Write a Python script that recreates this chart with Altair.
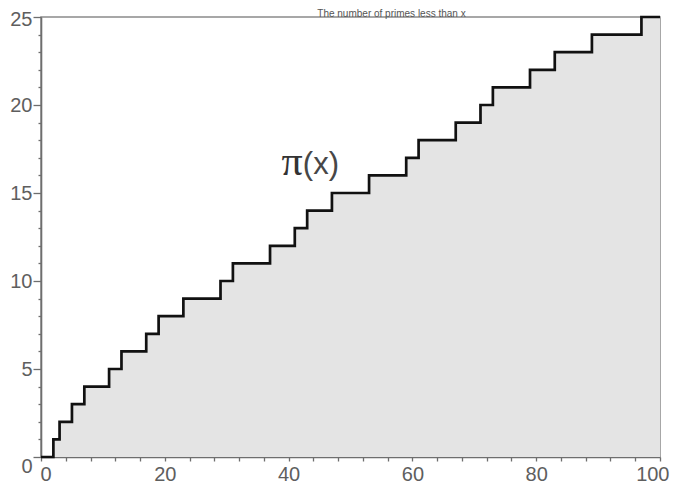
import altair as alt
import pandas as pd

# step positions (x where pi(x) jumps) and pi values
xs = [0, 2, 3, 5, 7, 11, 13, 17, 19, 23, 29, 31, 37, 41, 43, 47, 53, 59, 61, 67, 71, 73, 79, 83, 89, 97, 100]
pis = [0, 1, 2, 3, 4, 5, 6, 7, 8, 9, 10, 11, 12, 13, 14, 15, 16, 17, 18, 19, 20, 21, 22, 23, 24, 25, 25]

x_ticks = [0, 4, 8, 12, 16, 20, 24, 28, 32, 36, 40, 44, 48, 52, 56, 60, 64, 68, 72, 76, 80, 84, 88, 92, 96, 100]
y_ticks = list(range(0, 26))

label_x = [42.3]
label_y = [16.6]

df = pd.DataFrame({"x": xs, "y": pis})
lab = pd.DataFrame({"x": label_x, "y": label_y})

xscale = alt.Scale(domain=[0, 100], nice=False, zero=False)
yscale = alt.Scale(domain=[0, 25], nice=False, zero=False)

axis_common = dict(
    grid=False,
    domainColor="#6e6e6e",
    domainWidth=1.6,
    tickColor="#6e6e6e",
    tickWidth=1.3,
    labelColor="#5e5e5e",
    labelFont="Liberation Sans",
    labelFontSize=20,
    labelOverlap=False,
    labelFlush=False,
    title=None,
)

xaxis = alt.Axis(
    values=x_ticks,
    labelExpr="datum.value % 20 == 0 ? datum.label : ''",
    labelPadding=3,
    tickSize=4,
    labelAlign=alt.ConditionalAxisLabelAlign(
        condition=[
            {"test": "datum.value == 0", "value": "left"},
            {"test": "datum.value == 100", "value": "right"},
        ],
        value="center",
    ),
    labelOffset=alt.ConditionalAxisNumber(
        condition=[
            {"test": "datum.value == 0", "value": -1},
            {"test": "datum.value == 100", "value": 9},
        ],
        value=0,
    ),
    **axis_common,
)
yaxis = alt.Axis(
    values=y_ticks,
    labelExpr="datum.value % 5 == 0 ? datum.label : ''",
    labelPadding=1,
    tickSize=alt.ConditionalAxisNumber(
        condition={"test": "datum.value % 5 == 0", "value": 8},
        value=3,
    ),
    labelOffset=alt.ConditionalAxisNumber(
        condition=[
            {"test": "datum.value == 0", "value": 9},
            {"test": "datum.value == 25", "value": 2},
        ],
        value=0,
    ),
    **axis_common,
)

X = alt.X("x:Q", scale=xscale, axis=xaxis)
Y = alt.Y("y:Q", scale=yscale, axis=yaxis)

area = alt.Chart(df).mark_area(interpolate="step-after", color="#e4e4e4", opacity=1).encode(x=X, y=Y)

line = alt.Chart(df).mark_line(interpolate="step-after", color="#111111", strokeWidth=2.7).encode(x=X, y=Y)

pi_txt = alt.Chart(lab).mark_text(
    text="π", font="Liberation Serif", fontSize=42, color="#333333",
    align="right", baseline="middle", dx=0, dy=-3,
).encode(x=X, y=Y)

par_txt = alt.Chart(lab).mark_text(
    text="(x)", font="Liberation Sans", fontSize=31, color="#474747",
    align="left", baseline="middle", dx=0,
).encode(x=X, y=Y)

chart = (
    alt.layer(area, line, pi_txt, par_txt)
    .properties(
        width=619,
        height=440,
        autosize=alt.AutoSizeParams(type="none"),
        padding={"left": 33, "top": 9, "right": 10, "bottom": 27},
        title=alt.TitleParams(
            "The number of primes less than x",
            anchor="middle",
            frame="group",
            dx=41,
            offset=-10,
            fontSize=10,
            font="Liberation Sans",
            fontWeight="normal",
            color="#555555",
        ),
        background="white",
    )
    .configure_view(stroke="#8a8a8a", strokeWidth=1.5)
)

chart.save("out.html", embed_options={"renderer": "svg", "actions": False})
